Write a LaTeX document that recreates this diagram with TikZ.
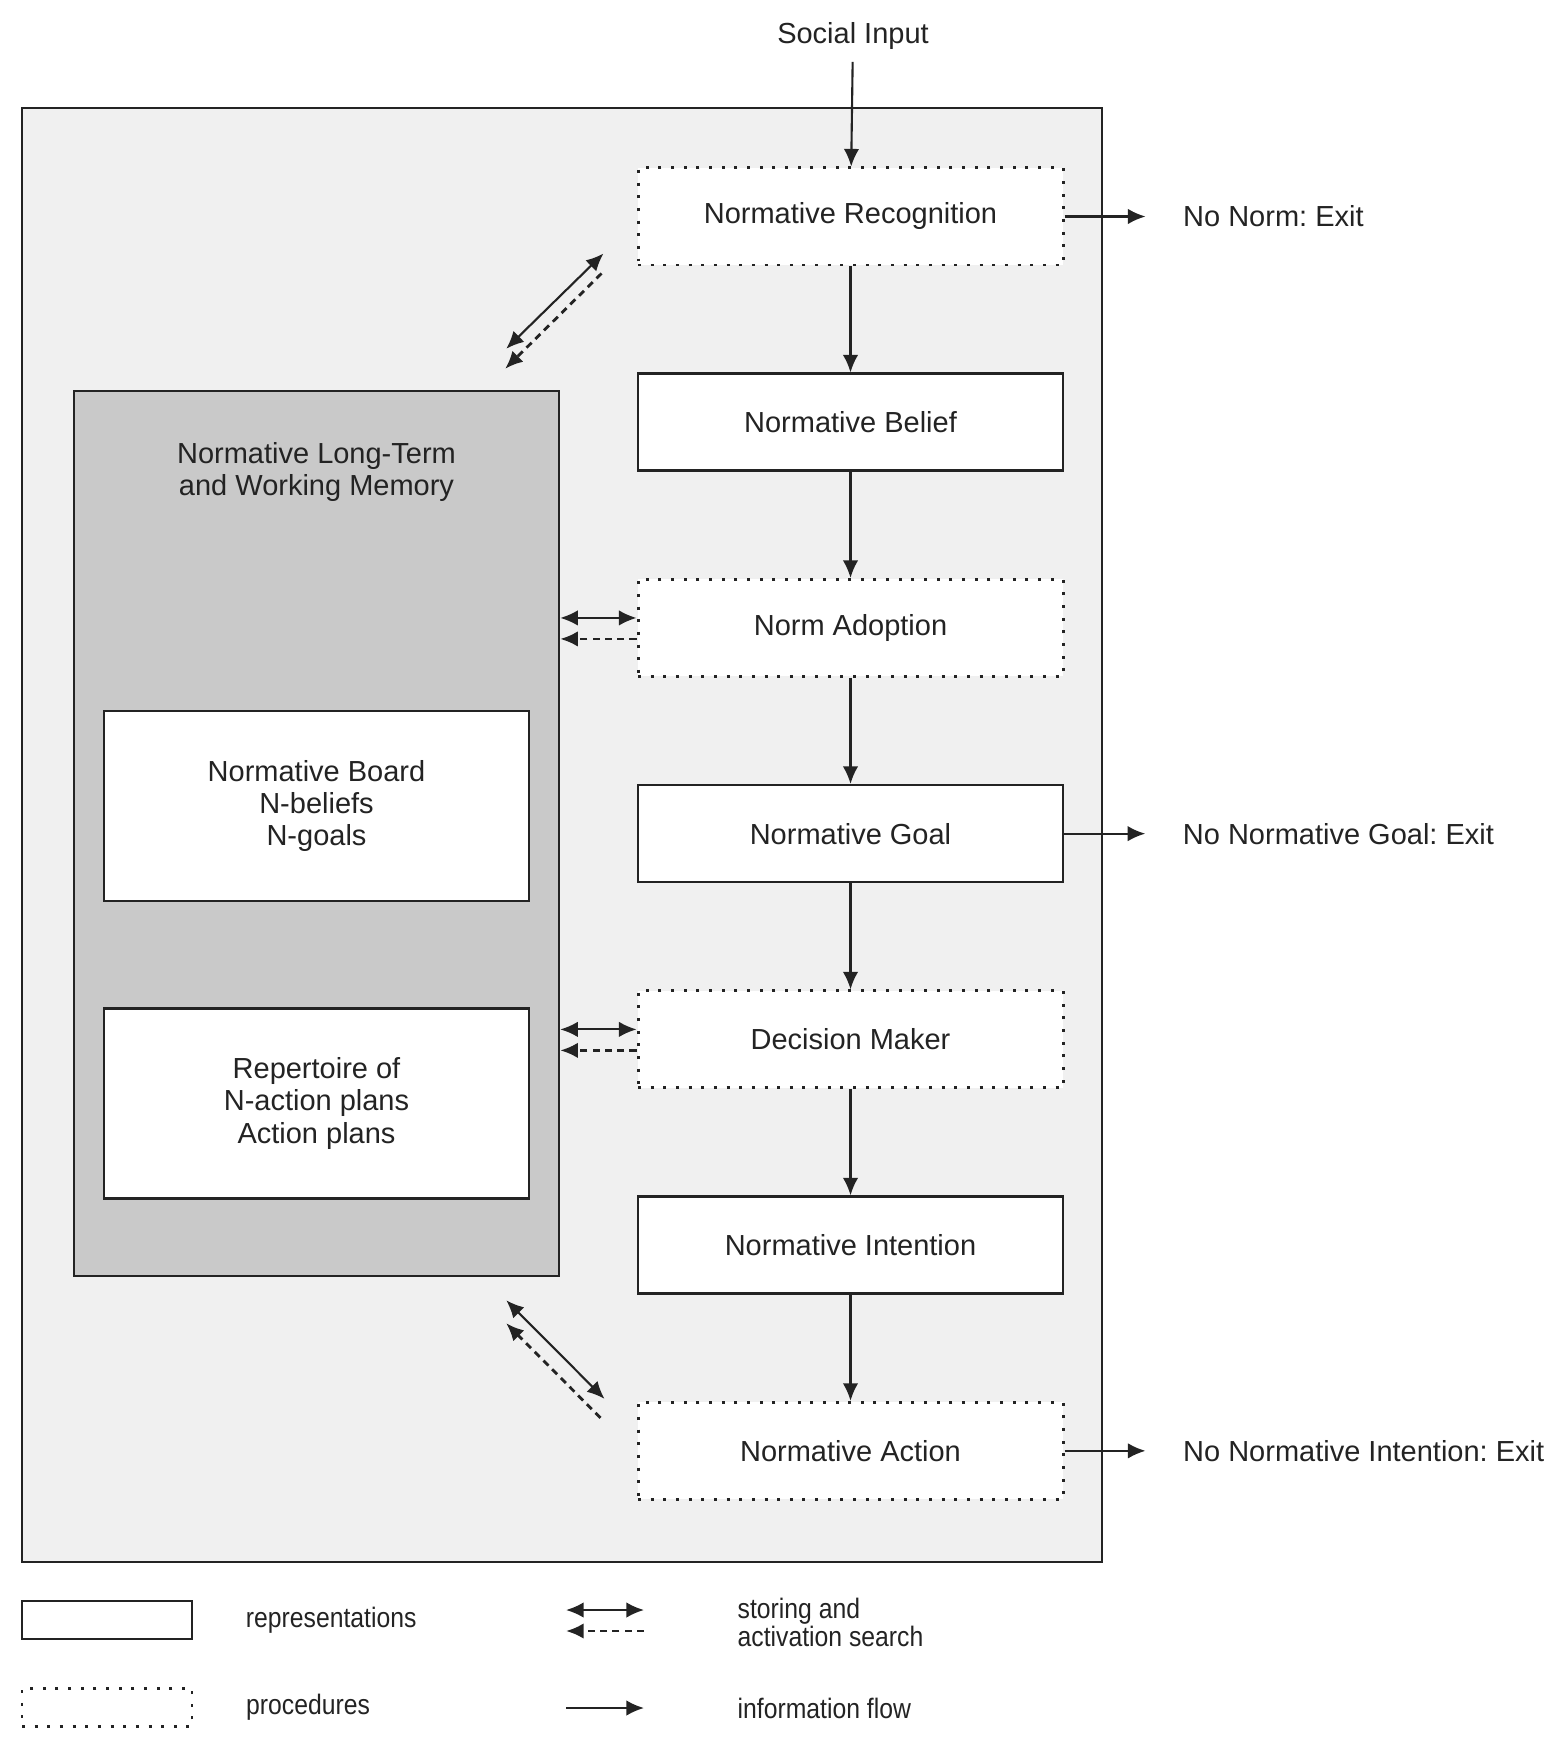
\documentclass[tikz,border=0pt]{standalone}
\usepackage{fontspec}
\setmainfont{Liberation Sans}
\newfontfamily\legendfont[FakeStretch=0.88]{Liberation Sans}
\usetikzlibrary{arrows.meta,positioning,calc}
\usepackage{xcolor}
\definecolor{panelgray}{RGB}{240,240,240}
\definecolor{memgray}{RGB}{201,201,201}
\definecolor{inkgray}{RGB}{35,35,35}
\frenchspacing

\begin{document}
\begin{tikzpicture}[font=\fontsize{8.25}{9.2}\selectfont, node distance=1.06cm, color=inkgray,
    >={Latex[length=5pt,width=4.4pt]},
    repbox/.style={draw, fill=white, line width=0.7pt, minimum width=4.25cm, minimum height=0.97cm, inner sep=0pt},
    procbox/.style={draw, fill=white, line width=0.85pt, dash pattern=on 0.85pt off 2.75pt, minimum width=4.25cm, minimum height=0.97cm, inner sep=0pt},
    flow/.style={->, line width=0.6pt},
    store/.style={<->, line width=0.6pt},
    search/.style={->, line width=0.8pt, dash pattern=on 2pt off 1.5pt},
    exitlab/.style={inner sep=0pt},
    legtext/.style={inner sep=0pt, align=left, font=\legendfont\fontsize{8}{8}\selectfont}]
    \useasboundingbox (0,0) rectangle (15.64,-17.53);
    % panel
    \draw[line width=0.35pt, fill=panelgray] (0.22,-1.08) rectangle (11.02,-15.62);

    % procedure chain
    \node[procbox] (recog) at (8.505,-2.165) {Normative Recognition};
    \node[repbox, below=of recog] (belief) {Normative Belief};
    \node[procbox, below=of belief] (adopt) {Norm Adoption};
    \node[repbox, below=of adopt] (goal) {Normative Goal};
    \node[procbox, below=of goal] (dec) {Decision Maker};
    \node[repbox, below=of dec] (intent) {Normative Intention};
    \node[procbox, below=of intent] (act) {Normative Action};
    \node (soc) at (8.53,-0.36) {Social Input};

    \draw[flow] (soc) -- (recog);
    \draw[flow] (recog) -- (belief);
    \draw[flow] (belief) -- (adopt);
    \draw[flow] (adopt) -- (goal);
    \draw[flow] (goal) -- (dec);
    \draw[flow] (dec) -- (intent);
    \draw[flow] (intent) -- (act);

    % exits
    \node[exitlab, right=1.18cm of recog] (ex1) {No Norm: Exit};
    \node[exitlab, right=1.18cm of goal] (ex2) {No Normative Goal: Exit};
    \node[exitlab, right=1.18cm of act] (ex3) {No Normative Intention: Exit};
    \draw[flow, shorten >=0.37cm] (recog) -- (ex1);
    \draw[flow, shorten >=0.37cm] (goal) -- (ex2);
    \draw[flow, shorten >=0.37cm] (act) -- (ex3);

    % memory
    \node[draw, fill=memgray, line width=0.7pt, minimum width=4.85cm, minimum height=8.85cm] (mem) at (3.165,-8.335) {};
    \node[align=center] (memtitle) at ($(mem.north)+(0,-0.82)$) {Normative Long-Term\\and Working Memory};
    \node[repbox, minimum height=1.9cm, align=center] (board) at (3.165,-8.06) {Normative Board\\N-beliefs\\N-goals};
    \node[repbox, minimum height=1.9cm, align=center, below=1.05cm of board] (plans) {Repertoire of\\N-action plans\\Action plans};

    % storing and activation search
    \draw[store] ([yshift=1mm]adopt.west) -- ([yshift=1mm]adopt.west -| mem.east);
    \draw[search] ([yshift=-1.1mm]adopt.west) -- ([yshift=-1.1mm]adopt.west -| mem.east);
    \draw[store] ([yshift=1mm]dec.west) -- ([yshift=1mm]dec.west -| mem.east);
    \draw[search] ([yshift=-1.1mm]dec.west) -- ([yshift=-1.1mm]dec.west -| mem.east);

    \coordinate (mt1) at ($(mem.north east)+(-0.54,0.41)$);
    \coordinate (rt1) at ($(recog.south west)+(-0.33,0.13)$);
    \coordinate (mt2) at ($(mem.north east)+(-0.55,0.21)$);
    \coordinate (rt2) at ($(recog.south west)+(-0.35,-0.07)$);
    \draw[store] (mt1) -- (rt1);
    \draw[search] (rt2) -- (mt2);

    \coordinate (mb1) at ($(mem.south east)+(-0.54,-0.23)$);
    \coordinate (ab1) at ($(act.north west)+(-0.32,0.02)$);
    \coordinate (mb2) at ($(mem.south east)+(-0.54,-0.46)$);
    \coordinate (ab2) at ($(act.north west)+(-0.36,-0.17)$);
    \draw[store] (mb1) -- (ab1);
    \draw[search] (ab2) -- (mb2);

    % legend
    \node[repbox, minimum width=1.7cm, minimum height=0.38cm] (lrep) at (1.07,-16.2) {};
    \node[procbox, minimum width=1.7cm, minimum height=0.38cm] (lproc) at (1.07,-17.075) {};
    \node[legtext, right=0.52cm of lrep] (lreptxt) {representations};
    \node[legtext, right=0.52cm of lproc] (lproctxt) {procedures};
    \node[legtext, anchor=west] (lstoretxt) at (7.37,-16.22) {storing and\\activation search};
    \node[legtext, anchor=west] (lflowtxt) at (7.37,-17.08) {information flow};
    \coordinate (ls1) at (5.66,-16.1);
    \coordinate (ls2) at (6.44,-16.1);
    \coordinate (ld1) at (5.66,-16.31);
    \coordinate (ld2) at (6.44,-16.31);
    \coordinate (lf1) at (5.66,-17.08);
    \coordinate (lf2) at (6.44,-17.08);
    \draw[store] (ls1) -- (ls2);
    \draw[search] (ld2) -- (ld1);
    \draw[flow] (lf1) -- (lf2);
\end{tikzpicture}
\end{document}
